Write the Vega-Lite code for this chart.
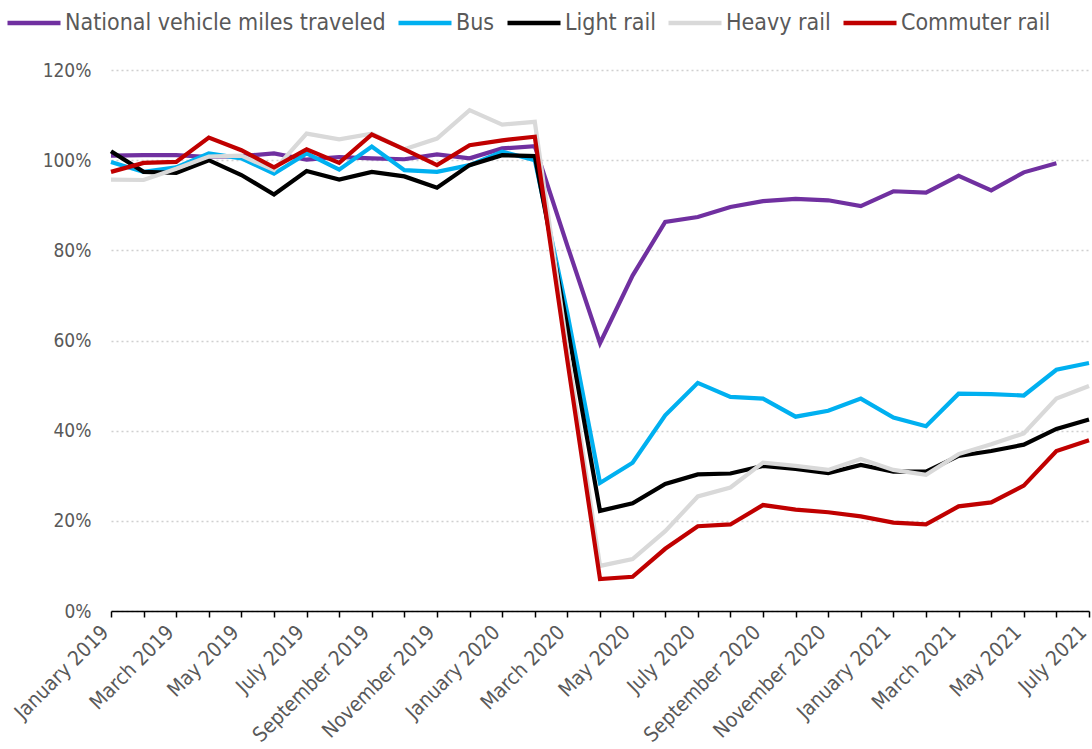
{
  "$schema": "https://vega.github.io/schema/vega-lite/v6.json",
  "autosize": "none",
  "width": 978,
  "height": 541,
  "padding": {"left": 111, "top": 70, "right": 3, "bottom": 138},
  "background": "white",
  "config": {
    "font": "DejaVu Sans Condensed, DejaVu Sans",
    "view": {"stroke": null}
  },
  "data": {
    "values": [
      {"month": "January 2019", "National vehicle miles traveled": 101.0, "Bus": 99.6, "Light rail": 102.0, "Heavy rail": 95.7, "Commuter rail": 97.4},
      {"month": "February 2019", "National vehicle miles traveled": 101.1, "Bus": 97.4, "Light rail": 97.4, "Heavy rail": 95.6, "Commuter rail": 99.4},
      {"month": "March 2019", "National vehicle miles traveled": 101.1, "Bus": 98.4, "Light rail": 97.2, "Heavy rail": 98.1, "Commuter rail": 99.6},
      {"month": "April 2019", "National vehicle miles traveled": 100.7, "Bus": 101.5, "Light rail": 100.0, "Heavy rail": 100.8, "Commuter rail": 105.0},
      {"month": "May 2019", "National vehicle miles traveled": 100.9, "Bus": 100.4, "Light rail": 96.7, "Heavy rail": 101.0, "Commuter rail": 102.2},
      {"month": "June 2019", "National vehicle miles traveled": 101.5, "Bus": 97.0, "Light rail": 92.4, "Heavy rail": 97.8, "Commuter rail": 98.4},
      {"month": "July 2019", "National vehicle miles traveled": 100.1, "Bus": 101.5, "Light rail": 97.6, "Heavy rail": 105.9, "Commuter rail": 102.4},
      {"month": "August 2019", "National vehicle miles traveled": 100.7, "Bus": 97.9, "Light rail": 95.7, "Heavy rail": 104.6, "Commuter rail": 99.4},
      {"month": "September 2019", "National vehicle miles traveled": 100.4, "Bus": 103.0, "Light rail": 97.4, "Heavy rail": 105.9, "Commuter rail": 105.7},
      {"month": "October 2019", "National vehicle miles traveled": 100.2, "Bus": 97.8, "Light rail": 96.4, "Heavy rail": 102.4, "Commuter rail": 102.4},
      {"month": "November 2019", "National vehicle miles traveled": 101.3, "Bus": 97.4, "Light rail": 93.9, "Heavy rail": 104.8, "Commuter rail": 98.9},
      {"month": "December 2019", "National vehicle miles traveled": 100.4, "Bus": 98.9, "Light rail": 98.9, "Heavy rail": 111.1, "Commuter rail": 103.3},
      {"month": "January 2020", "National vehicle miles traveled": 102.6, "Bus": 101.9, "Light rail": 101.1, "Heavy rail": 107.9, "Commuter rail": 104.4},
      {"month": "February 2020", "National vehicle miles traveled": 103.1, "Bus": 100.0, "Light rail": 100.9, "Heavy rail": 108.5, "Commuter rail": 105.2},
      {"month": "March 2020", "National vehicle miles traveled": 81.0, "Bus": 66.0, "Light rail": 63.0, "Heavy rail": 58.0, "Commuter rail": 55.5},
      {"month": "April 2020", "National vehicle miles traveled": 59.4, "Bus": 28.4, "Light rail": 22.2, "Heavy rail": 10.0, "Commuter rail": 7.1},
      {"month": "May 2020", "National vehicle miles traveled": 74.4, "Bus": 32.9, "Light rail": 23.9, "Heavy rail": 11.5, "Commuter rail": 7.6},
      {"month": "June 2020", "National vehicle miles traveled": 86.3, "Bus": 43.4, "Light rail": 28.2, "Heavy rail": 17.7, "Commuter rail": 13.8},
      {"month": "July 2020", "National vehicle miles traveled": 87.4, "Bus": 50.6, "Light rail": 30.3, "Heavy rail": 25.4, "Commuter rail": 18.8},
      {"month": "August 2020", "National vehicle miles traveled": 89.6, "Bus": 47.5, "Light rail": 30.5, "Heavy rail": 27.4, "Commuter rail": 19.2},
      {"month": "September 2020", "National vehicle miles traveled": 90.9, "Bus": 47.1, "Light rail": 32.2, "Heavy rail": 32.9, "Commuter rail": 23.5},
      {"month": "October 2020", "National vehicle miles traveled": 91.4, "Bus": 43.1, "Light rail": 31.5, "Heavy rail": 32.2, "Commuter rail": 22.5},
      {"month": "November 2020", "National vehicle miles traveled": 91.1, "Bus": 44.4, "Light rail": 30.6, "Heavy rail": 31.3, "Commuter rail": 21.9},
      {"month": "December 2020", "National vehicle miles traveled": 89.8, "Bus": 47.1, "Light rail": 32.4, "Heavy rail": 33.7, "Commuter rail": 21.0},
      {"month": "January 2021", "National vehicle miles traveled": 93.1, "Bus": 42.9, "Light rail": 30.9, "Heavy rail": 31.3, "Commuter rail": 19.6},
      {"month": "February 2021", "National vehicle miles traveled": 92.8, "Bus": 41.0, "Light rail": 30.9, "Heavy rail": 30.2, "Commuter rail": 19.2},
      {"month": "March 2021", "National vehicle miles traveled": 96.5, "Bus": 48.2, "Light rail": 34.4, "Heavy rail": 34.8, "Commuter rail": 23.2},
      {"month": "April 2021", "National vehicle miles traveled": 93.3, "Bus": 48.1, "Light rail": 35.5, "Heavy rail": 37.0, "Commuter rail": 24.1},
      {"month": "May 2021", "National vehicle miles traveled": 97.3, "Bus": 47.8, "Light rail": 36.9, "Heavy rail": 39.4, "Commuter rail": 27.8},
      {"month": "June 2021", "National vehicle miles traveled": 99.3, "Bus": 53.5, "Light rail": 40.4, "Heavy rail": 47.1, "Commuter rail": 35.5},
      {"month": "July 2021", "National vehicle miles traveled": null, "Bus": 55.0, "Light rail": 42.5, "Heavy rail": 49.9, "Commuter rail": 37.9}
    ]
  },
  "transform": [
    {"fold": ["National vehicle miles traveled", "Bus", "Light rail", "Heavy rail", "Commuter rail"], "as": ["series", "value"]},
    {"filter": "isValid(datum.value)"}
  ],
  "mark": {"type": "line", "strokeWidth": 4.2, "strokeJoin": "miter", "strokeCap": "butt", "clip": false},
  "encoding": {
    "x": {
      "field": "month",
      "type": "ordinal",
      "sort": null,
      "scale": {"type": "point", "padding": 0},
      "axis": {
        "title": null,
        "labelAngle": -45,
        "labelAlign": "right",
        "labelBaseline": "middle",
        "labelExpr": "test(/^(January|March|May|July|September|November)/, datum.value) ? datum.value : ''",
        "labelFontSize": 20.5,
        "labelColor": "#595959",
        "labelPadding": 12,
        "labelOffset": -6,
        "labelOverlap": false,
        "labelBound": false,
        "domainColor": "#000000",
        "domainWidth": 1.5,
        "tickColor": "#000000",
        "tickWidth": 1.5,
        "tickSize": 6,
        "grid": false
      }
    },
    "y": {
      "field": "value",
      "type": "quantitative",
      "scale": {"domain": [0, 120], "nice": false},
      "axis": {
        "title": null,
        "values": [0, 20, 40, 60, 80, 100, 120],
        "labelExpr": "datum.value + '%'",
        "labelFontSize": 19,
        "labelColor": "#595959",
        "labelPadding": 20,
        "domain": false,
        "ticks": false,
        "grid": true,
        "gridColor": "#D0D0D0",
        "gridWidth": 1.5,
        "gridDash": [2, 3]
      }
    },
    "color": {
      "field": "series",
      "type": "nominal",
      "scale": {
        "domain": ["National vehicle miles traveled", "Bus", "Light rail", "Heavy rail", "Commuter rail"],
        "range": ["#7030A0", "#00B0F0", "#000000", "#D9D9D9", "#C00000"]
      },
      "legend": {
        "title": null,
        "orient": "none",
        "legendX": -106,
        "legendY": -76,
        "direction": "horizontal",
        "symbolType": "stroke",
        "symbolSize": 2809,
        "symbolStrokeWidth": 4.5,
        "labelFontSize": 23,
        "labelColor": "#595959",
        "labelOffset": 2,
        "columnPadding": 3,
        "labelLimit": 400
      }
    }
  }
}
